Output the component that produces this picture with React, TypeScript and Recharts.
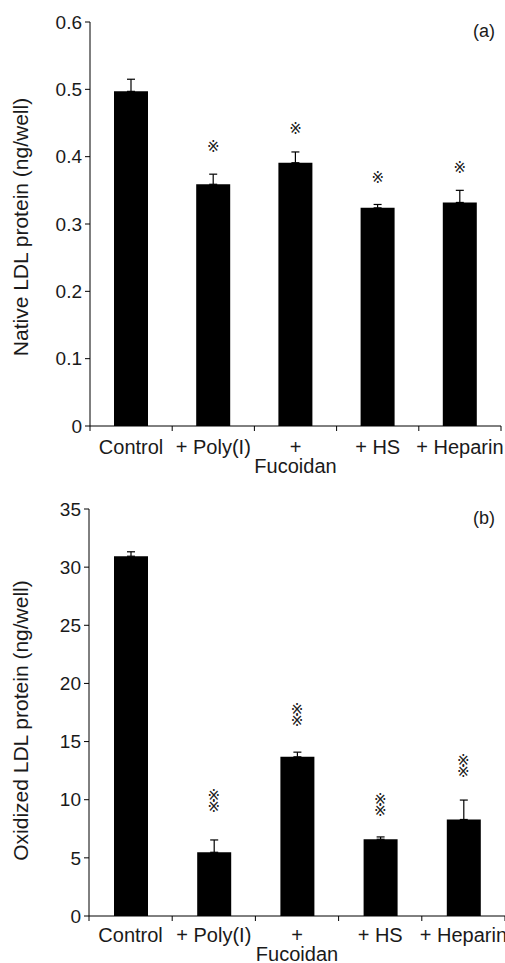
import React from "react";
import { ComposedChart, Bar, ErrorBar, Scatter, XAxis, YAxis, Label } from "recharts";

const categories = ["Control", "+ Poly(I)", "+\nFucoidan", "+ HS", "+ Heparin"];

const nativeValues = [0.497, 0.359, 0.391, 0.324, 0.332];
const nativeErrors = [0.018, 0.015, 0.016, 0.005, 0.018];
const nativeStars = [null, 0.415, 0.441, 0.369, 0.383];
const nativeTicks = [0, 0.1, 0.2, 0.3, 0.4, 0.5, 0.6];

const oxidizedValues = [30.94, 5.48, 13.69, 6.6, 8.3];
const oxidizedErrors = [0.38, 1.06, 0.4, 0.2, 1.67];
const oxidizedStars = [null, 9.83, 17.26, 9.54, 12.85];
const oxidizedTicks = [0, 5, 10, 15, 20, 25, 30, 35];

const FONT = "'Liberation Sans', Arial, sans-serif";
const INK = "#1a1a1a";

const nativeData = categories.map((name, i) => ({
  name,
  value: nativeValues[i],
  err: [0, nativeErrors[i]],
  star: nativeStars[i],
}));

const oxidizedData = categories.map((name, i) => ({
  name,
  value: oxidizedValues[i],
  err: [0, oxidizedErrors[i]],
  star: oxidizedStars[i],
}));

function CategoryTick({ x, y, payload, base }: any) {
  const lines = String(payload.value).split("\n");
  const half = payload.offset || 41;
  const isLast = payload.value === categories[categories.length - 1];
  return (
    <g>
      <line x1={x - half} x2={x - half} y1={y} y2={y + 5} stroke="#000" />
      {isLast && <line x1={x + half} x2={x + half} y1={y} y2={y + 5} stroke="#000" />}
      <text x={x} y={y + base} textAnchor="middle" fill={INK} fontSize={20} fontFamily={FONT}>
        {lines.map((l, i) => (
          <tspan key={i} x={x} dy={i === 0 ? 0 : 19}>
            {l}
          </tspan>
        ))}
      </text>
    </g>
  );
}

function AxisTitle({ viewBox, text, shift }: any) {
  const cx = viewBox.x + 20;
  const cy = viewBox.y + viewBox.height / 2 + shift;
  return (
    <text
      x={cx}
      y={cy}
      transform={`rotate(-90 ${cx} ${cy})`}
      textAnchor="middle"
      dominantBaseline="central"
      fill={INK}
      fontSize={21}
      fontFamily={FONT}
    >
      {text}
    </text>
  );
}

function StarShape({ cx, cy, count }: any) {
  if (cx == null || cy == null) return null;
  const top = count === 2 ? cy - 5.5 : cy;
  return (
    <text
      x={cx}
      y={top}
      textAnchor="middle"
      dominantBaseline="central"
      fontSize={15}
      fontFamily="'DejaVu Sans', sans-serif"
      fill="#222"
    >
      <tspan x={cx}>※</tspan>
      {count === 2 && (
        <tspan x={cx} dy={11}>
          ※
        </tspan>
      )}
    </text>
  );
}

function Panel({ data, ticks, domain, title, tag, top, height, margin, axisWidth, xHeight, base, stars, shift, tagTop }: any) {
  return (
    <div style={{ position: "absolute", left: 0, top, width: 505, height }}>
      <ComposedChart width={505} height={height} data={data} margin={margin}>
        <XAxis
          dataKey="name"
          height={xHeight}
          interval={0}
          tickLine={false}
          tickSize={0}
          tickMargin={0}
          axisLine={{ stroke: "#000" }}
          tick={<CategoryTick base={base} />}
        />
        <YAxis
          width={axisWidth}
          domain={domain}
          ticks={ticks}
          interval={0}
          tickSize={5}
          tickMargin={3}
          axisLine={{ stroke: "#000" }}
          tickLine={{ stroke: "#000" }}
          tick={{ fill: INK, fontSize: 19, fontFamily: FONT }}
        >
          <Label content={(p: any) => <AxisTitle {...p} text={title} shift={shift} />} />
        </YAxis>
        <Bar dataKey="value" fill="#000" barSize={34} isAnimationActive={false}>
          <ErrorBar dataKey="err" width={4} stroke="#000" strokeWidth={1.2} isAnimationActive={false} />
        </Bar>
        <Scatter dataKey="star" isAnimationActive={false} shape={<StarShape count={stars} />} />
      </ComposedChart>
      <div
        style={{
          position: "absolute",
          right: 10,
          top: tagTop,
          fontFamily: FONT,
          fontSize: 18,
          color: INK,
        }}
      >
        {tag}
      </div>
    </div>
  );
}

export default function App() {
  return (
    <div style={{ position: "absolute", left: 0, top: 0, width: 505, height: 963, background: "#fff" }}>
      <Panel
        data={nativeData}
        ticks={nativeTicks}
        domain={[0, 0.6]}
        title="Native LDL protein (ng/well)"
        tag="(a)"
        top={0}
        height={480}
        margin={{ top: 22, right: 4, bottom: 0, left: 0 }}
        axisWidth={90}
        xHeight={54}
        base={28}
        stars={1}
        shift={3}
        tagTop={21}
      />
      <Panel
        data={oxidizedData}
        ticks={oxidizedTicks}
        domain={[0, 35]}
        title="Oxidized LDL protein (ng/well)"
        tag="(b)"
        top={480}
        height={483}
        margin={{ top: 29, right: 0, bottom: 0, left: 0 }}
        axisWidth={89}
        xHeight={47}
        base={26}
        stars={2}
        shift={8}
        tagTop={28}
      />
    </div>
  );
}
